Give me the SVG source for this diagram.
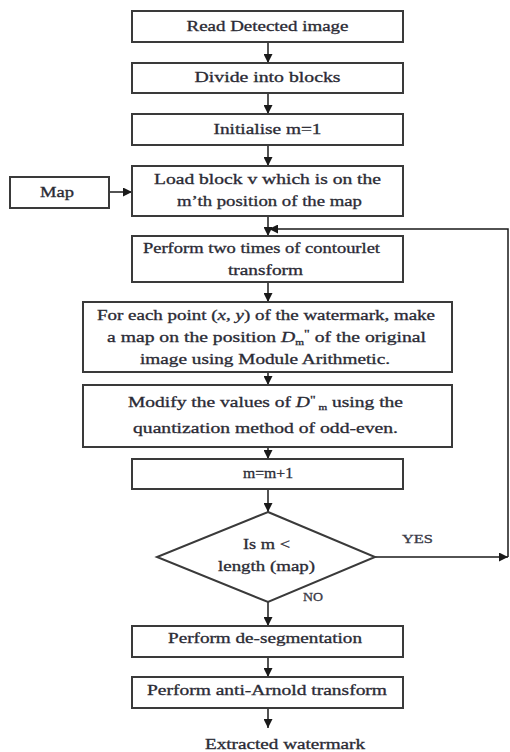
<svg xmlns="http://www.w3.org/2000/svg" width="510" height="752" viewBox="0 0 510 752">
<defs>
<marker id="ah" markerUnits="userSpaceOnUse" markerWidth="10" markerHeight="9" refX="9" refY="4.5" orient="auto">
<path d="M0,0 L9,4.5 L0,9 z" fill="#1a1a1a"/>
</marker>
<style>
.box{fill:#fff;stroke:#3a3a3a;stroke-width:2}
.t{font-family:"Liberation Serif","Times New Roman",serif;font-size:14px;fill:#2b2b35;stroke:#2b2b35;stroke-width:0.3;text-anchor:middle}
.lbl{font-family:"Liberation Serif","Times New Roman",serif;font-size:12px;fill:#3b3b48;stroke:#3b3b48;stroke-width:0.3}
.c{fill:none;stroke:#1a1a1a;stroke-width:1.5}
</style>
</defs>
<rect width="510" height="752" fill="#fff"/>
<g id="connectors">
<line class="c" x1="268" y1="42" x2="268" y2="63" marker-end="url(#ah)"/>
<line class="c" x1="268" y1="93" x2="268" y2="114" marker-end="url(#ah)"/>
<line class="c" x1="268" y1="145" x2="268" y2="166" marker-end="url(#ah)"/>
<line class="c" x1="109" y1="192" x2="132" y2="192" marker-end="url(#ah)"/>
<line class="c" x1="268" y1="216" x2="268" y2="236" marker-end="url(#ah)"/>
<line class="c" x1="268" y1="282" x2="268" y2="302" marker-end="url(#ah)"/>
<line class="c" x1="268" y1="372" x2="268" y2="385" marker-end="url(#ah)"/>
<line class="c" x1="268" y1="447" x2="268" y2="459" marker-end="url(#ah)"/>
<line class="c" x1="268" y1="489" x2="268" y2="512" marker-end="url(#ah)"/>
<line class="c" x1="375" y1="557" x2="508" y2="557" marker-end="url(#ah)"/>
<polyline class="c" points="508,557 508,229 269,229" marker-end="url(#ah)"/>
<line class="c" x1="268" y1="602" x2="268" y2="626" marker-end="url(#ah)"/>
<line class="c" x1="268" y1="657" x2="268" y2="677" marker-end="url(#ah)"/>
<line class="c" x1="268" y1="708" x2="268" y2="728" marker-end="url(#ah)"/>
<text class="lbl" x="402" y="543" textLength="31" lengthAdjust="spacingAndGlyphs">YES</text>
<text class="lbl" x="303" y="601" textLength="20" lengthAdjust="spacingAndGlyphs">NO</text>
</g>
<g id="n1">
<rect class="box" x="132" y="11" width="271" height="31"/>
<text class="t" x="267.5" y="31" textLength="162" lengthAdjust="spacingAndGlyphs">Read Detected image</text>
</g>
<g id="n2">
<rect class="box" x="132" y="63" width="271" height="30"/>
<text class="t" x="267.5" y="82" textLength="146" lengthAdjust="spacingAndGlyphs">Divide into blocks</text>
</g>
<g id="n3">
<rect class="box" x="132" y="114" width="271" height="31"/>
<text class="t" x="267.5" y="134" textLength="108" lengthAdjust="spacingAndGlyphs">Initialise m=1</text>
</g>
<g id="map">
<rect class="box" x="10" y="177" width="99" height="31"/>
<text class="t" x="57" y="197" textLength="34" lengthAdjust="spacingAndGlyphs">Map</text>
</g>
<g id="n4">
<rect class="box" x="132" y="166" width="271" height="50"/>
<text class="t" x="267.5" y="184" textLength="227" lengthAdjust="spacingAndGlyphs">Load block v which is on the</text>
<text class="t" x="269.5" y="206" textLength="185" lengthAdjust="spacingAndGlyphs">m’th position of the map</text>
</g>
<g id="n5">
<rect class="box" x="132" y="236" width="271" height="46"/>
<text class="t" x="261.5" y="253" textLength="237" lengthAdjust="spacingAndGlyphs">Perform two times of contourlet</text>
<text class="t" x="265.5" y="275" textLength="75" lengthAdjust="spacingAndGlyphs">transform</text>
</g>
<g id="n6">
<rect class="box" x="83" y="302" width="369" height="70"/>
<text class="t" x="266" y="320" textLength="338" lengthAdjust="spacingAndGlyphs">For each point (<tspan font-style="italic">x</tspan>, <tspan font-style="italic">y</tspan>) of the watermark, make</text>
<text class="t" x="266.5" y="342" textLength="319" lengthAdjust="spacingAndGlyphs">a map on the position <tspan font-style="italic">D</tspan><tspan font-size="8" dy="3">m</tspan><tspan font-size="10" dy="-8">"</tspan><tspan dy="5"> of the original</tspan></text>
<text class="t" x="265" y="364" textLength="250" lengthAdjust="spacingAndGlyphs">image using Module Arithmetic.</text>
</g>
<g id="n7">
<rect class="box" x="83" y="385" width="369" height="62"/>
<text class="t" x="265.5" y="407" textLength="275" lengthAdjust="spacingAndGlyphs">Modify the values of <tspan font-style="italic">D</tspan><tspan font-size="10" dy="-4">"</tspan><tspan font-size="8" dy="7"> m</tspan><tspan dy="-3"> using the</tspan></text>
<text class="t" x="265.5" y="433" textLength="265" lengthAdjust="spacingAndGlyphs">quantization method of odd-even.</text>
</g>
<g id="n8">
<rect class="box" x="132" y="459" width="271" height="30"/>
<text class="t" x="268" y="478" textLength="50" lengthAdjust="spacingAndGlyphs">m=m+1</text>
</g>
<g id="d1">
<polygon class="box" points="268,512 375,557 268,602 157,557"/>
<text class="t" x="266.5" y="549" textLength="47" lengthAdjust="spacingAndGlyphs">Is m &lt;</text>
<text class="t" x="266.5" y="571" textLength="97" lengthAdjust="spacingAndGlyphs">length (map)</text>
</g>
<g id="n9">
<rect class="box" x="132" y="626" width="271" height="31"/>
<text class="t" x="265" y="643" textLength="194" lengthAdjust="spacingAndGlyphs">Perform de-segmentation</text>
</g>
<g id="n10">
<rect class="box" x="132" y="677" width="271" height="31"/>
<text class="t" x="267" y="695" textLength="240" lengthAdjust="spacingAndGlyphs">Perform anti-Arnold transform</text>
</g>
<g id="out">
<text class="t" x="285" y="749" textLength="160" lengthAdjust="spacingAndGlyphs">Extracted watermark</text>
</g>
</svg>
